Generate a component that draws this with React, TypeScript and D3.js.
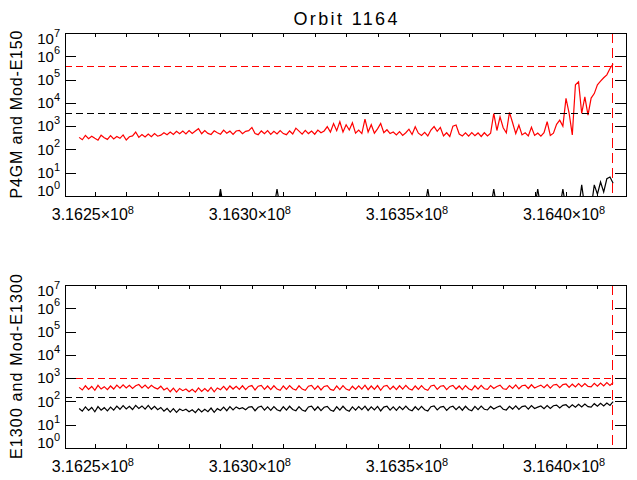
import * as d3 from 'd3';

const W = 637;
const H = 480;
const LEFT = 65;
const RIGHT = 626;
const PANEL_H = 163;
const FONT = '"Liberation Sans", Arial, sans-serif';

// sample times: one value every 1000 s from 3.16245e8
const T_START = 3.16245e8;
const T_STEP = 1000;
const X_DOMAIN = [3.162405e8, 3.164191e8];
const X_LABEL_TICKS = [3.1625e8, 3.163e8, 3.1635e8, 3.164e8];
const Y_EXPONENTS = [0, 1, 2, 3, 4, 5, 6, 7];
const V_LINE_TIME = 3.164145e8;

const title = 'Orbit 1164';

// P4GM (red) and Mod-E150 (black)
const p4gm = [
  330, 260, 400, 290, 370, 300, 250, 410, 320, 270,
  390, 280, 360, 300, 420, 255, 350, 380, 560, 330,
  440, 340, 460, 350, 480, 370, 410, 520, 430, 560,
  440, 600, 470, 610, 460, 640, 480, 620, 780, 470,
  650, 490, 440, 630, 520, 450, 680, 500, 610, 440,
  620, 660, 470, 600, 640, 880, 480, 430, 620, 470,
  640, 440, 600, 460, 650, 480, 430, 620, 460, 820,
  610, 450, 660, 480, 620, 450, 680, 520, 620, 950,
  560, 1300, 640, 1550, 560, 1150, 680, 1400, 500, 680,
  480, 2000, 560, 1150, 500, 760, 1300, 520, 700, 480,
  560, 420, 580, 400, 520, 740, 440, 950, 500, 400,
  540, 380, 680, 960, 600, 880, 380, 520, 360, 1000,
  1120, 460, 380, 520, 370, 530, 390, 510, 360, 520,
  380, 500, 3500, 650, 2500, 850, 520, 3900, 1400, 480,
  1100, 420, 520, 380, 900, 400, 500, 370, 520, 1550,
  400, 500, 1200, 1800, 1000, 15600, 3500, 420, 60000, 80000,
  3500, 18000, 3000, 16000, 25000, 60000, 85000, 120000, 160000, 300000,
  480000,
];

const modE150 = [
  0.3, 0.3, 0.3, 0.3, 0.3, 0.3, 0.3, 0.3, 0.3, 0.3,
  0.3, 0.3, 0.3, 0.3, 0.3, 0.3, 0.3, 0.3, 0.3, 0.3,
  0.3, 0.3, 0.3, 0.3, 0.3, 0.3, 0.3, 0.3, 0.3, 0.3,
  0.3, 0.3, 0.3, 0.3, 0.3, 0.3, 0.3, 0.3, 0.3, 0.3,
  0.3, 0.3, 0.3, 0.3, 0.3, 2, 0.3, 0.3, 0.3, 0.3,
  0.3, 0.3, 0.3, 0.3, 0.3, 0.3, 0.3, 0.3, 0.3, 0.3,
  0.3, 0.3, 0.3, 2, 0.3, 0.3, 0.3, 0.3, 0.3, 0.3,
  0.3, 0.3, 0.3, 0.3, 0.3, 0.3, 0.3, 0.3, 0.3, 0.3,
  0.3, 0.3, 0.3, 0.3, 0.3, 0.3, 0.3, 0.3, 0.3, 0.3,
  0.3, 0.3, 0.3, 0.3, 0.3, 0.3, 0.3, 0.3, 0.3, 0.3,
  0.3, 0.3, 0.3, 0.3, 0.3, 0.3, 0.3, 0.3, 0.3, 0.3,
  0.3, 2, 0.3, 0.3, 0.3, 0.3, 0.3, 0.3, 0.3, 0.3,
  0.3, 0.3, 0.3, 0.3, 0.3, 0.3, 0.3, 0.3, 0.3, 0.3,
  0.3, 0.3, 2, 0.3, 0.3, 0.3, 0.3, 0.3, 0.3, 0.3,
  0.3, 0.3, 0.3, 0.3, 0.3, 0.3, 2, 0.3, 0.3, 0.3,
  0.3, 0.3, 0.3, 0.3, 2, 0.3, 0.3, 0.3, 0.3, 0.3,
  3, 0.3, 0.3, 0.3, 3, 1.2, 4, 1.5, 5.5, 6.5,
  3.5,
];

// E1300 (red) and Mod-E1300 (black)
const e1300 = [
  400, 310, 470, 330, 440, 300, 490, 340, 430, 320,
  460, 340, 500, 370, 520, 380, 490, 360, 470, 530,
  380, 500, 360, 490, 390, 340, 450, 310, 380, 260,
  370, 250, 360, 290, 340, 260, 330, 250, 380, 270,
  360, 270, 400, 260, 380, 320, 440, 310, 460, 340,
  450, 330, 470, 320, 440, 480, 310, 450, 490, 330,
  460, 320, 470, 340, 300, 460, 330, 480, 350, 310,
  470, 340, 300, 450, 490, 330, 460, 310, 440, 480,
  330, 300, 460, 320, 480, 340, 300, 450, 330, 470,
  340, 500, 320, 460, 330, 480, 300, 450, 490, 330,
  450, 320, 470, 340, 490, 350, 310, 460, 330, 480,
  340, 300, 460, 500, 330, 450, 480, 320, 440, 490,
  340, 460, 320, 480, 350, 310, 470, 340, 490, 350,
  330, 480, 360, 440, 500, 350, 330, 480, 360, 510,
  350, 470, 500, 360, 520, 380, 440, 500, 390, 530,
  370, 510, 540, 390, 530, 560, 400, 550, 420, 580,
  430, 590, 440, 420, 600, 450, 620, 460, 640, 490,
  650,
];

const modE1300 = [
  50, 38, 58, 41, 55, 36, 60, 42, 54, 39,
  57, 42, 63, 46, 66, 48, 62, 45, 68, 50,
  64, 47, 67, 46, 62, 44, 55, 38, 50, 35,
  49, 34, 47, 40, 46, 36, 44, 33, 48, 35,
  46, 36, 52, 34, 49, 41, 57, 40, 60, 43,
  58, 48, 54, 44, 57, 60, 40, 56, 63, 42,
  58, 41, 60, 44, 39, 59, 42, 62, 45, 40,
  60, 43, 38, 58, 63, 42, 59, 40, 56, 61,
  43, 38, 59, 42, 62, 44, 38, 58, 42, 60,
  44, 63, 41, 59, 43, 61, 39, 57, 62, 42,
  58, 41, 60, 44, 63, 45, 40, 59, 43, 61,
  44, 39, 59, 64, 43, 57, 61, 41, 56, 62,
  44, 60, 42, 62, 45, 40, 61, 44, 63, 46,
  43, 61, 47, 56, 64, 46, 43, 62, 47, 65,
  45, 60, 64, 47, 66, 50, 57, 64, 49, 67,
  50, 65, 69, 52, 68, 72, 54, 71, 56, 75,
  58, 77, 60, 57, 80, 62, 83, 64, 86, 67,
  97,
];

// threshold levels (dashed lines)
const topLevels = { red: 3.8e5, black: 3.55e3 };
const bottomLevels = { red: 980, black: 155 };

type PanelProps = {
  id: string;
  top: number;
  yTitle: string;
  yTitleLen: number;
  red: number[];
  black: number[];
  levels: { red: number; black: number };
};

const px = (v: number) => Math.round(v) + 0.5;

function Panel({ id, top, yTitle, yTitleLen, red, black, levels }: PanelProps) {
  const bottom = top + PANEL_H;
  const x = d3.scaleLinear().domain(X_DOMAIN).range([LEFT, RIGHT]);
  const y = d3.scaleLog().domain([1, 1e7]).range([bottom, top]);
  const tx = (i: number) => x(T_START + i * T_STEP);
  const line = d3
    .line<number>()
    .x((_, i) => tx(i))
    .y((d) => y(d));

  const minorTicks = d3.range(3.1625e8, 3.16415e8, 1e4);
  const vx = px(x(V_LINE_TIME));

  return (
    <g>
      <defs>
        <clipPath id={id}>
          <rect x={LEFT} y={top} width={RIGHT - LEFT} height={PANEL_H} />
        </clipPath>
      </defs>

      <g clipPath={`url(#${id})`} fill="none">
        <path d={line(black) ?? ''} stroke="#000" strokeWidth={1.2} />
        <path d={line(red) ?? ''} stroke="#ff0000" strokeWidth={1.2} />
        <g shapeRendering="crispEdges" strokeWidth={1}>
          <line x1={LEFT} x2={RIGHT} y1={px(y(levels.red))} y2={px(y(levels.red))} stroke="#ff0000" strokeDasharray="7 4" />
          <line x1={LEFT} x2={RIGHT} y1={px(y(levels.black))} y2={px(y(levels.black))} stroke="#000" strokeDasharray="7 4" />
          <line x1={vx} x2={vx} y1={top} y2={bottom} stroke="#ff0000" strokeDasharray="10 5" />
        </g>
      </g>

      {/* frame and ticks */}
      <g stroke="#000" strokeWidth={1} shapeRendering="crispEdges">
        <rect x={LEFT + 0.5} y={top + 0.5} width={RIGHT - LEFT} height={PANEL_H} fill="none" />
        {minorTicks.map((t) => (
          <g key={t}>
            <line x1={px(x(t))} x2={px(x(t))} y1={bottom} y2={bottom - 4} />
            <line x1={px(x(t))} x2={px(x(t))} y1={top} y2={top + 4} />
          </g>
        ))}
        {Y_EXPONENTS.slice(1, -1).map((e) => (
          <g key={e}>
            <line x1={LEFT} x2={LEFT + 11} y1={px(y(10 ** e))} y2={px(y(10 ** e))} />
            <line x1={RIGHT} x2={RIGHT - 11} y1={px(y(10 ** e))} y2={px(y(10 ** e))} />
          </g>
        ))}
      </g>

      <g fontFamily={FONT} fill="#000">
        {Y_EXPONENTS.map((e) => {
          const ty = y(10 ** e);
          const base = e === 7 ? ty + 11 : e === 0 ? ty : ty + 5.3;
          return (
            <text key={e} x={60} y={base} fontSize={15} textAnchor="end">
              10
              <tspan dy={-7.5} fontSize={11}>
                {e}
              </tspan>
            </text>
          );
        })}
        {X_LABEL_TICKS.map((t) => (
          <text key={t} x={x(t) - 2} y={bottom + 24} fontSize={16} textAnchor="middle">
            {(t / 1e8).toFixed(4)}×10
            <tspan dy={-6} fontSize={11}>
              8
            </tspan>
          </text>
        ))}
        <text
          transform={`translate(22, ${(top + bottom) / 2}) rotate(-90)`}
          textAnchor="middle"
          fontSize={16}
          textLength={yTitleLen}
        >
          {yTitle}
        </text>
      </g>
    </g>
  );
}

export default function App() {
  return (
    <svg
      width={W}
      height={H}
      viewBox={`0 0 ${W} ${H}`}
      style={{ position: 'absolute', left: 0, top: 0, background: '#fff' }}
    >
      <rect width={W} height={H} fill="#fff" />
      <text
        x={(LEFT + RIGHT) / 2}
        y={25}
        textAnchor="middle"
        fontFamily={FONT}
        fontSize={18}
        textLength={104}
      >
        {title}
      </text>
      <Panel id="clipTop" top={33} yTitle="P4GM and Mod-E150" yTitleLen={168} red={p4gm} black={modE150} levels={topLevels} />
      <Panel
        id="clipBottom"
        top={285}
        yTitle="E1300 and Mod-E1300"
        yTitleLen={185}
        red={e1300}
        black={modE1300}
        levels={bottomLevels}
      />
    </svg>
  );
}
